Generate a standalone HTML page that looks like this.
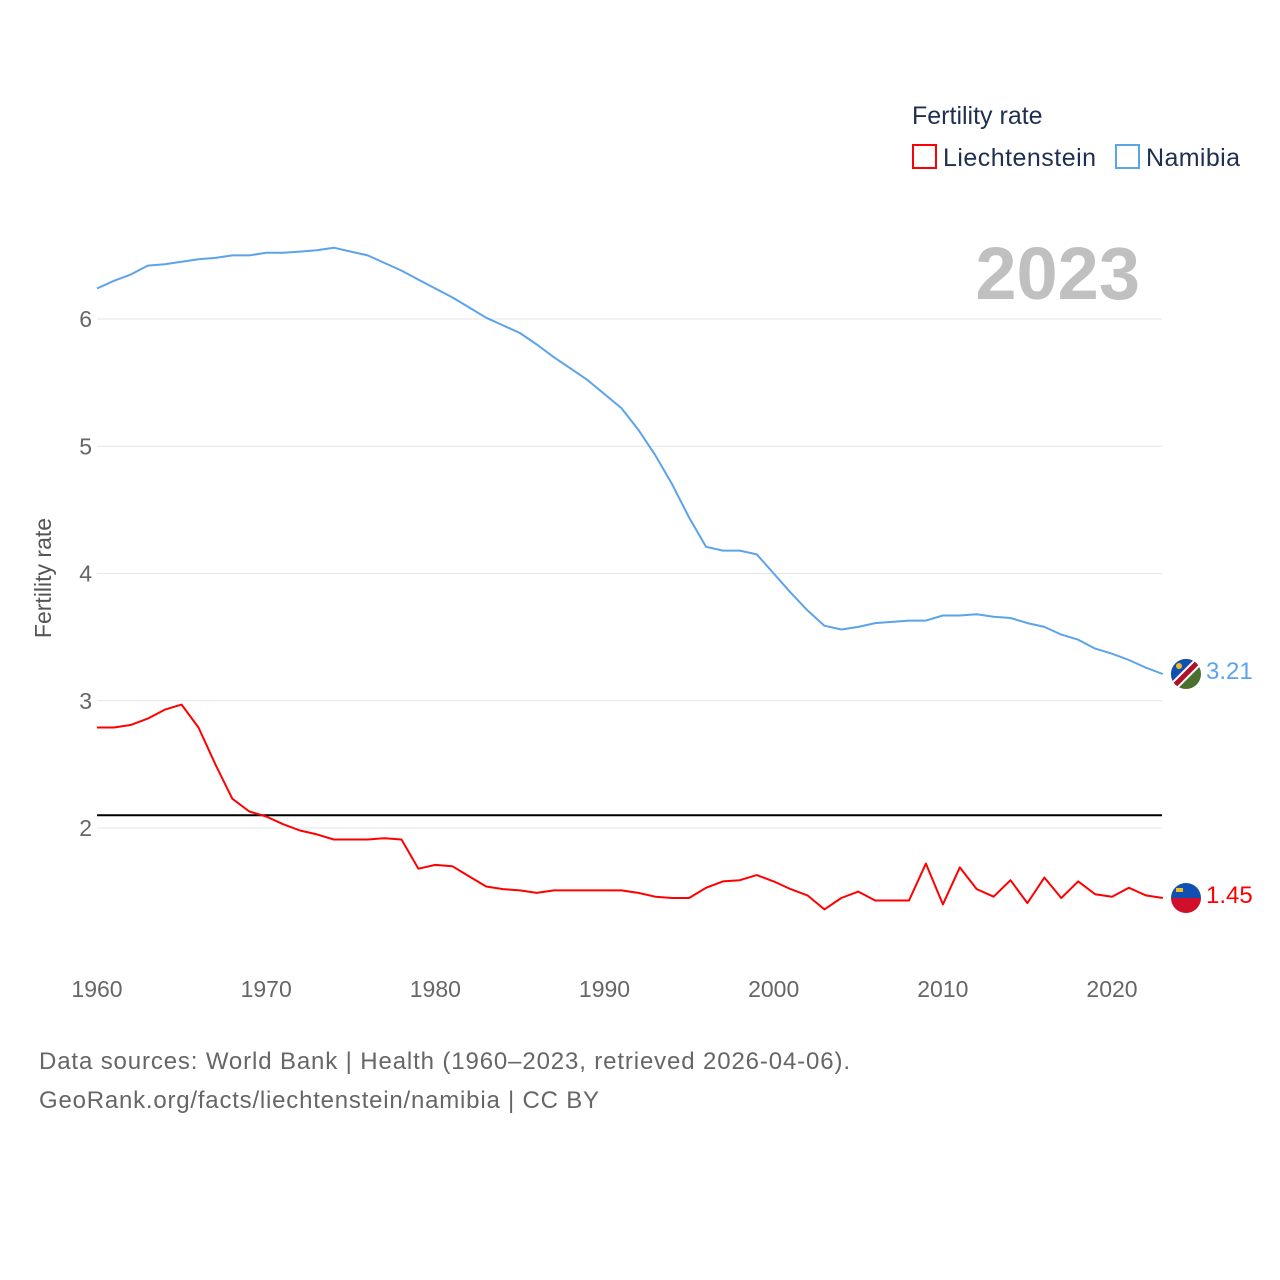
<!DOCTYPE html>
<html><head><meta charset="utf-8"><style>
body{margin:0;background:#fff;font-family:"Liberation Sans",sans-serif}
svg{display:block}
</style></head><body>
<svg id="c" width="1280" height="1280" viewBox="0 0 1280 1280">
<rect width="1280" height="1280" fill="#fff"/>
<text x="912" y="124" font-size="25" fill="#1f2f4f">Fertility rate</text>
<g><rect x="913" y="145" width="23" height="23" fill="none" stroke="#ff0000" stroke-width="2"/><text x="943" y="166" font-size="25" fill="#1f2f4f" textLength="153">Liechtenstein</text></g>
<g><rect x="1116" y="145" width="23" height="23" fill="none" stroke="#5ba3ea" stroke-width="2"/><text x="1146" y="166" font-size="25" fill="#1f2f4f" textLength="94">Namibia</text></g>
<text x="1140" y="299" font-size="74" font-weight="bold" fill="#c0c0c0" text-anchor="end">2023</text>
<text transform="translate(51,578) rotate(-90)" font-size="23" fill="#555" text-anchor="middle">Fertility rate</text>
<g id="grid"></g><g id="lines"></g>
<g><clipPath id="cn"><circle cx="1186" cy="674" r="15"/></clipPath><g clip-path="url(#cn)"><rect x="1170" y="658" width="32" height="32" fill="#4a7030"/><polygon points="1170,658 1202,658 1170,690" fill="#1050b0"/><line x1="1168" y1="692" x2="1204" y2="656" stroke="#fff" stroke-width="9"/><line x1="1168" y1="692" x2="1204" y2="656" stroke="#b0102a" stroke-width="5"/><circle cx="1179" cy="666" r="3" fill="#f0c020"/></g></g>
<g><clipPath id="cl"><circle cx="1186" cy="898" r="15"/></clipPath><g clip-path="url(#cl)"><rect x="1170" y="882" width="32" height="16" fill="#1050b0"/><rect x="1170" y="898" width="32" height="16" fill="#d0102a"/><rect x="1176" y="888" width="7" height="4" fill="#f0c020"/></g></g>
<text x="1206" y="679" font-size="24" fill="#5ba3ea">3.21</text>
<text x="1206" y="903" font-size="24" fill="#ff0000">1.45</text>
<text x="39" y="1069" font-size="24" fill="#666" textLength="811">Data sources: World Bank | Health (1960–2023, retrieved 2026-04-06).</text>
<text x="39" y="1108" font-size="24" fill="#666" textLength="560">GeoRank.org/facts/liechtenstein/namibia | CC BY</text>
</svg>
<script>
const years=[];for(let y=1960;y<=2023;y++)years.push(y);
const namibia=[6.24,6.30,6.35,6.42,6.43,6.45,6.47,6.48,6.50,6.50,6.52,6.52,6.53,6.54,6.56,6.53,6.50,6.44,6.38,6.31,6.24,6.17,6.09,6.01,5.95,5.89,5.80,5.70,5.61,5.52,5.41,5.30,5.13,4.93,4.70,4.44,4.21,4.18,4.18,4.15,4.00,3.85,3.71,3.59,3.56,3.58,3.61,3.62,3.63,3.63,3.67,3.67,3.68,3.66,3.65,3.61,3.58,3.52,3.48,3.41,3.37,3.32,3.26,3.21];
const liechtenstein=[2.79,2.79,2.81,2.86,2.93,2.97,2.79,2.50,2.23,2.13,2.09,2.03,1.98,1.95,1.91,1.91,1.91,1.92,1.91,1.68,1.71,1.70,1.62,1.54,1.52,1.51,1.49,1.51,1.51,1.51,1.51,1.51,1.49,1.46,1.45,1.45,1.53,1.58,1.59,1.63,1.58,1.52,1.47,1.36,1.45,1.50,1.43,1.43,1.43,1.72,1.40,1.69,1.52,1.46,1.59,1.41,1.61,1.45,1.58,1.48,1.46,1.53,1.47,1.45];
const yTicks=[2,3,4,5,6];
const xTicks=[1960,1970,1980,1990,2000,2010,2020];
const replacement=[2.1];
const X=y=>97+(y-1960)*16.917, Y=v=>828-(v-2)*127.25;
const NS="http://www.w3.org/2000/svg";
function mk(t,a,p){const e=document.createElementNS(NS,t);for(const k in a)e.setAttribute(k,a[k]);p.appendChild(e);return e;}
const g=document.getElementById('grid'),L=document.getElementById('lines');
yTicks.forEach(v=>{
 const l=mk('line',{x1:97,x2:1162,y1:Y(v),y2:Y(v),stroke:'#e6e6e6','stroke-width':1},g);
 
 
 const t=mk('text',{x:92,y:Y(v)+8,'font-size':23,fill:'#666','text-anchor':'end'},g);t.textContent=v;
 
 
});
xTicks.forEach(v=>{
 const t=mk('text',{x:X(v),y:997,'font-size':23,fill:'#666','text-anchor':'middle'},g);t.textContent=v;
 
 
});
replacement.forEach(v=>{
 const l=mk('line',{x1:97,x2:1162,y1:Y(v),y2:Y(v),stroke:'#000','stroke-width':2},L);
 
 
});
function path(d,c,name){
 const p=mk('path',{d:d.map((v,i)=>(i?'L':'M')+X(years[i]).toFixed(1)+','+Y(v).toFixed(1)).join(''),fill:'none',stroke:c,'stroke-width':2,'stroke-linejoin':'round'},L);
 
 
}
path(namibia,'#5ba3ea','namibia-line');
path(liechtenstein,'#ff0000','liechtenstein-line');
</script>
</body></html>
